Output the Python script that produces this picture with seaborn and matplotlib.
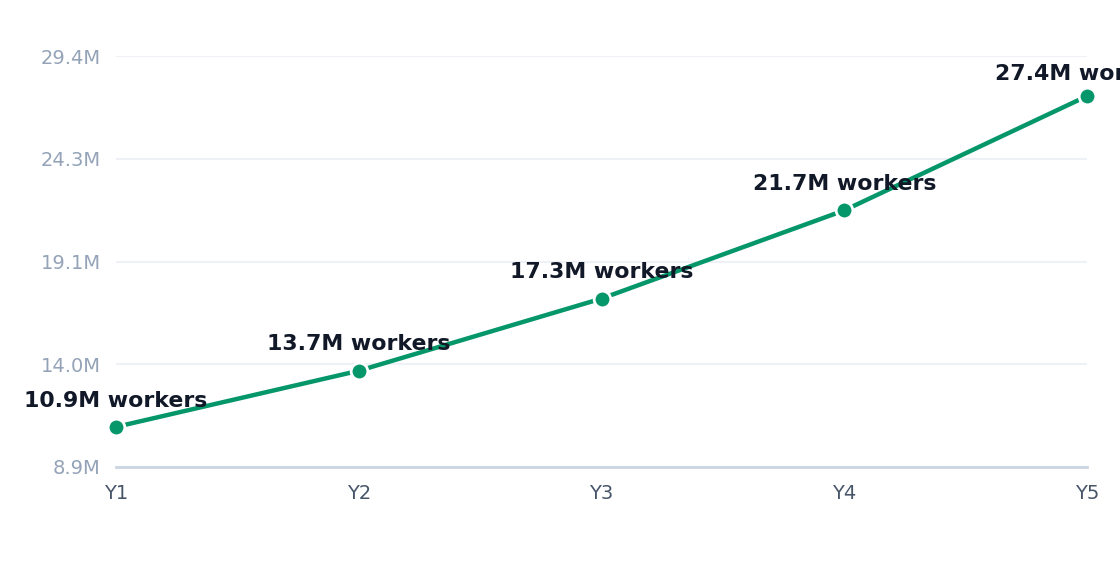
import matplotlib
matplotlib.use("Agg")
import matplotlib.pyplot as plt
import pandas as pd
import seaborn as sns

# ---------------------------------------------------------------------------
# Data
# ---------------------------------------------------------------------------
years = ["Y1", "Y2", "Y3", "Y4", "Y5"]
workers_m = [10.9, 13.7, 17.3, 21.7, 27.4]
point_labels = ["10.9M workers", "13.7M workers", "17.3M workers",
                "21.7M workers", "27.4M workers"]
y_ticks = [8.9, 14.025, 19.15, 24.275, 29.4]
y_tick_labels = ["8.9M", "14.0M", "19.1M", "24.3M", "29.4M"]

GREEN = "#059669"
DARK = "#111827"

sns.set_theme(style="white")
plt.rcParams["font.family"] = ["DejaVu Sans"]

df = pd.DataFrame({"year": years, "workers": workers_m})

fig = plt.figure(figsize=(11.2, 5.72), dpi=100)
ax = fig.add_axes([116 / 1120, 1 - 467 / 572, (1087 - 116) / 1120, (467 - 56) / 572])

sns.lineplot(data=df, x="year", y="workers", ax=ax, color=GREEN,
             linewidth=3.2, marker="o", markersize=12,
             markeredgecolor="white", markeredgewidth=2, sort=False)

# labels sit above each point; the top one is nudged down to stay near the plot
for i, (x, y, txt) in enumerate(zip(years, workers_m, point_labels)):
    dy = 16 if i == len(years) - 1 else 19
    ax.annotate(txt, (x, y), xytext=(0, dy), textcoords="offset points",
                ha="center", va="center", fontsize=15.8, fontweight="bold",
                color=DARK, annotation_clip=False)

ax.set_xlim(0, len(years) - 1)
ax.set_ylim(y_ticks[0], y_ticks[-1])
ax.set_yticks(y_ticks)
ax.set_yticklabels(y_tick_labels)
ax.tick_params(axis="y", length=0, pad=11, labelsize=14, labelcolor="#94a3b8")
ax.tick_params(axis="x", length=0, pad=12, labelsize=14, labelcolor="#475569")

ax.grid(axis="y", color="#eef2f6", linewidth=1.5)
ax.set_axisbelow(True)
for side in ["top", "right", "left"]:
    ax.spines[side].set_visible(False)
ax.spines["bottom"].set_color("#cbd5e1")
ax.spines["bottom"].set_linewidth(2)
ax.set_xlabel("")
ax.set_ylabel("")

for line in ax.lines:
    line.set_clip_on(False)

fig.savefig("out.png", dpi=100)
